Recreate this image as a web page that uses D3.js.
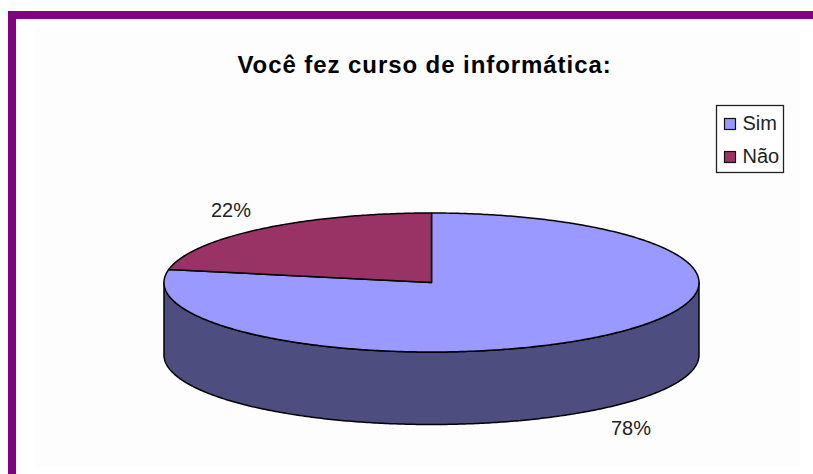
<!DOCTYPE html>
<html><head><meta charset="utf-8">
<script src="https://cdn.jsdelivr.net/npm/d3@7"></script>
<style>html,body{margin:0;padding:0;background:#fff;overflow:hidden}svg{display:block}text{font-family:"Liberation Sans",Arial,sans-serif}</style>
</head><body>
<svg id="c" width="813" height="474"></svg>
<script>
const chartTitle = "Você fez curso de informática:";
const categories = ["Sim", "Não"];
const seriesValues = [78, 22];
const valueLabels = ["78%", "22%"];
const topColors = ["#9999ff", "#993366"];
const wallColor = "#4d4d80";

const W = 813, H = 474;
const cx = 431.5, cy = 282.5, rx = 267.5, ry = 69.5, depth = 72.5;
const svg = d3.select("#c");
const x = d3.scaleLinear().domain([-1, 1]).range([cx - rx, cx + rx]);
const y = d3.scaleLinear().domain([-1, 1]).range([cy - ry, cy + ry]);
const arcs = d3.pie().sort(null).value(d => d)(seriesValues);

const px = a => x(Math.sin(a));
const py = (a, dz = 0) => y(-Math.cos(a)) + dz;
const sample = (a0, a1, dz = 0) => {
  const n = Math.max(2, Math.ceil(Math.abs(a1 - a0) / 0.01));
  return d3.range(n + 1).map(i => { const a = a0 + (a1 - a0) * i / n; return [px(a), py(a, dz)]; });
};
const line = d3.line();

// frame
svg.append("rect").attr("width", W).attr("height", H).attr("fill", "#fff");
svg.append("rect").attr("x", 35).attr("y", 27).attr("width", 765).attr("height", 440).attr("fill", "#fdfdfd");
svg.append("rect").attr("x", 8).attr("y", 11).attr("width", W - 8).attr("height", 8).attr("fill", "#800080");
svg.append("rect").attr("x", 8).attr("y", 11).attr("width", 8).attr("height", H - 11).attr("fill", "#800080");

// title
svg.append("text").attr("x", 424.5).attr("y", 73).attr("text-anchor", "middle")
  .attr("font-size", 24).attr("letter-spacing", 0.93).attr("font-weight", "bold").attr("fill", "#000").text(chartTitle);

// side wall: visible front half of the rim
const a0 = Math.PI / 2, a1 = 3 * Math.PI / 2;
const wall = sample(a0, a1, 0).concat(sample(a1, a0, depth));
svg.append("path").attr("d", line(wall) + "Z").attr("fill", wallColor)
  .attr("stroke", "#000").attr("stroke-width", 1.5).attr("stroke-linejoin", "round");

// top slices
svg.selectAll("path.slice").data(arcs).join("path").attr("class", "slice")
  .attr("d", d => line([[x(0), y(0)], ...sample(d.startAngle, d.endAngle)]) + "Z")
  .attr("fill", (d, i) => topColors[i])
  .attr("stroke", "#000").attr("stroke-width", 1.5).attr("stroke-linejoin", "round");

// value labels
const labelPos = [[631, 435], [231, 217]];
svg.selectAll("text.val").data(valueLabels).join("text").attr("class", "val")
  .attr("x", (d, i) => labelPos[i][0]).attr("y", (d, i) => labelPos[i][1])
  .attr("text-anchor", "middle").attr("font-size", 20).attr("fill", "#222").text(d => d);

// legend
svg.append("rect").attr("x", 716.5).attr("y", 105.5).attr("width", 67).attr("height", 67)
  .attr("fill", "#fff").attr("stroke", "#222").attr("stroke-width", 1.3);
const ly = d3.scalePoint().domain(categories).range([124, 157]);
const lg = svg.selectAll("g.lg").data(categories).join("g").attr("class", "lg");
lg.append("rect").attr("x", 724.5).attr("y", d => ly(d) - 5.5).attr("width", 11).attr("height", 11)
  .attr("fill", (d, i) => topColors[i]).attr("stroke", "#111").attr("stroke-width", 1.2);
lg.append("text").attr("x", 742.5).attr("y", d => ly(d) + 6).attr("font-size", 20).attr("fill", "#222").text(d => d);
</script>
</body></html>
